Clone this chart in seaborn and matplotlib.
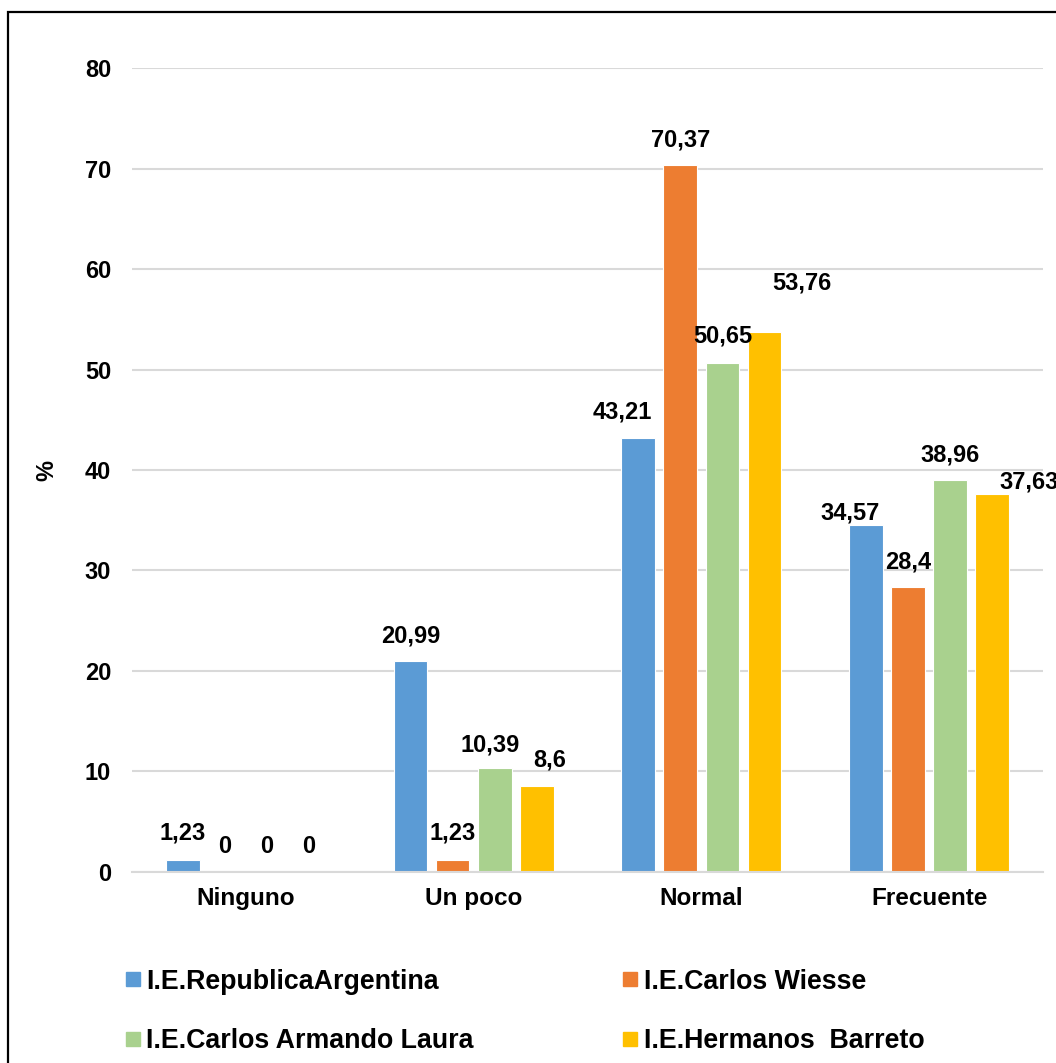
import pandas as pd
import matplotlib
matplotlib.use("Agg")
import matplotlib.pyplot as plt
from matplotlib.patches import Rectangle
import seaborn as sns

# Data (percent of students)
categories = ["Ninguno", "Un poco", "Normal", "Frecuente"]
schools = [
    "I.E.RepublicaArgentina",
    "I.E.Carlos Wiesse",
    "I.E.Carlos Armando Laura",
    "I.E.Hermanos  Barreto",
]
argentina = [1.23, 20.99, 43.21, 34.57]
wiesse = [0, 1.23, 70.37, 28.4]
laura = [0, 10.39, 50.65, 38.96]
barreto = [0, 8.6, 53.76, 37.63]

colors = ["#5B9BD5", "#ED7D31", "#A9D18E", "#FFC000"]

# manual label nudges (pixels) like in the original, per school / category
label_dx = [[0, 0, -16, -16], [0, 0, 0, 0], [0, -5, 0, 0], [0, 13, 37, 37]]
label_dy = [[27, 25, 26, 12], [25, 27, 25, 25], [25, 23, 27, 25], [25, 26, 49, 12]]

rows = []
for school, vals in zip(schools, [argentina, wiesse, laura, barreto]):
    for cat, v in zip(categories, vals):
        rows.append({"Categoria": cat, "Colegio": school, "Porcentaje": v})
df = pd.DataFrame(rows)

sns.set_style("white")
plt.rcParams["font.family"] = ["Liberation Sans", "DejaVu Sans"]
plt.rcParams["font.weight"] = "bold"
for key in ["text.color", "xtick.color", "ytick.color", "axes.labelcolor"]:
    plt.rcParams[key] = "black"

fig = plt.figure(figsize=(10.56, 10.63), dpi=100)
ax = fig.add_axes([0.125, 0.1797, 0.8627, 0.7563])

sns.barplot(
    data=df, x="Categoria", y="Porcentaje", hue="Colegio",
    order=categories, hue_order=schools, palette=colors,
    width=0.74, gap=0.2, edgecolor="white", linewidth=0.8,
    saturation=1, ax=ax,
)

ax.set_ylim(0, 80)
ax.set_xlim(-0.5, 3.5)
ax.set_yticks(range(0, 81, 10))
ax.yaxis.grid(True, color="#D9D9D9", linewidth=1.5)
ax.set_axisbelow(True)
for s in ["left", "right", "top"]:
    ax.spines[s].set_visible(False)
ax.spines["bottom"].set_color("#D9D9D9")
ax.spines["bottom"].set_linewidth(1.5)
ax.tick_params(axis="y", length=0, pad=15, labelsize=17)
ax.tick_params(axis="x", length=0, pad=11, labelsize=17.5)
for t in ax.get_xticklabels() + ax.get_yticklabels():
    t.set_fontweight("bold")
ax.set_xlabel("")
ax.set_ylabel("%", fontsize=17, fontweight="bold")
ax.yaxis.set_label_coords(-0.081, 0.5)

# value labels
for i, cont in enumerate(ax.containers):
    for j, bar in enumerate(cont):
        v = bar.get_height()
        txt = f"{v:g}".replace(".", ",")
        ax.annotate(
            txt, (bar.get_x() + bar.get_width() / 2, v),
            xytext=(label_dx[i][j], label_dy[i][j]), textcoords="offset pixels",
            ha="center", va="center", fontsize=17, fontweight="bold",
            annotation_clip=False,
        )

# legend at the bottom, two columns
ax.get_legend().remove()
handles = [plt.Line2D([], [], marker="s", linestyle="", markersize=10,
                      markerfacecolor=c, markeredgecolor=c) for c in colors]
order = [0, 2, 1, 3]
fig.legend(
    [handles[k] for k in order], [schools[k] for k in order],
    ncol=2, loc="lower left", bbox_to_anchor=(0.118, 0.008),
    frameon=False, prop={"size": 19.3, "weight": "bold"},
    borderpad=0, borderaxespad=0,
    handletextpad=0.2, handlelength=0.6, columnspacing=5.55, labelspacing=1.26,
)

# chart frame (cut off at right / bottom as in the reference)
fig.patches.append(Rectangle((8 / 1056, -0.1), 1.2, 1.0887, transform=fig.transFigure,
                             fill=False, edgecolor="black", linewidth=1.6, clip_on=False))

plt.savefig("out.png", dpi=100)
